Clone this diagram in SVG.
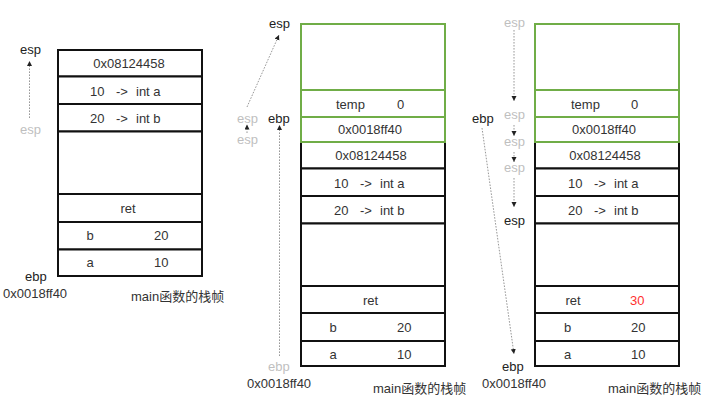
<svg xmlns="http://www.w3.org/2000/svg" width="716" height="402" viewBox="0 0 716 402">
<style>
text{font-family:"Liberation Sans","Noto Sans CJK SC",sans-serif;font-size:13px;fill:#333}
.m{text-anchor:middle}
.g{fill:#bfbfbf}
.k{fill:#222}
.r{fill:#ff3030}
.cb{fill:#fff;stroke:#111;stroke-width:2}
.cg{fill:#fff;stroke:#70ad47;stroke-width:2}
.ar{fill:none;stroke:#8c8c8c;stroke-width:0.9;stroke-dasharray:1.6 1.4;marker-end:url(#ah)}
</style>
<defs>
<marker id="ah" markerUnits="userSpaceOnUse" markerWidth="6" markerHeight="6" refX="5" refY="2.5" orient="auto">
<path d="M0,0 L5,2.5 L0,5 z" fill="#222"/>
</marker>
</defs>
<rect width="716" height="402" fill="#fff"/>

<!-- Panel 1 -->
<g id="p1-c1"><rect class="cb" x="58" y="50" width="144" height="26.5"/><text class="m" x="129" y="67.5">0x08124458</text></g>
<g id="p1-c2"><rect class="cb" x="58" y="76.5" width="144" height="27.5"/><text x="90" y="96">10</text><text x="116" y="96">-&gt;</text><text x="136" y="96">int a</text></g>
<g id="p1-c3"><rect class="cb" x="58" y="104" width="144" height="27.5"/><text x="90" y="123">20</text><text x="116" y="123">-&gt;</text><text x="136" y="123">int b</text></g>
<g id="p1-c4"><rect class="cb" x="58" y="131.5" width="144" height="62.5"/></g>
<g id="p1-c5"><rect class="cb" x="58" y="194" width="144" height="28"/><text class="m" x="128" y="212.5">ret</text></g>
<g id="p1-c6"><rect class="cb" x="58" y="222" width="144" height="27.5"/><text x="86.5" y="240">b</text><text x="154" y="240">20</text></g>
<g id="p1-c7"><rect class="cb" x="58" y="249.5" width="144" height="26.5"/><text x="86.5" y="267">a</text><text x="154" y="267">10</text></g>
<g id="p1-labels">
<text class="k" x="20" y="54">esp</text>
<text class="g" x="20" y="134">esp</text>
<text class="k" x="25" y="281">ebp</text>
<text x="3" y="298">0x0018ff40</text>
<text x="131" y="301">main函数的栈帧</text>
</g>

<!-- Panel 2 -->
<g id="p2-c4"><rect class="cb" x="301" y="142" width="144" height="26.5"/><text class="m" x="371" y="160">0x08124458</text></g>
<g id="p2-c5"><rect class="cb" x="301" y="168.5" width="144" height="27.5"/><text x="334" y="187.5">10</text><text x="360" y="187.5">-&gt;</text><text x="380" y="187.5">int a</text></g>
<g id="p2-c6"><rect class="cb" x="301" y="196" width="144" height="27.5"/><text x="334" y="214.5">20</text><text x="360" y="214.5">-&gt;</text><text x="380" y="214.5">int b</text></g>
<g id="p2-c7"><rect class="cb" x="301" y="223.5" width="144" height="62.5"/></g>
<g id="p2-c8"><rect class="cb" x="301" y="286" width="144" height="27"/><text class="m" x="370.5" y="304.5">ret</text></g>
<g id="p2-c9"><rect class="cb" x="301" y="313" width="144" height="28"/><text x="329.5" y="331.5">b</text><text x="397" y="331.5">20</text></g>
<g id="p2-c10"><rect class="cb" x="301" y="341" width="144" height="25"/><text x="329.5" y="358.5">a</text><text x="397" y="358.5">10</text></g>
<g id="p2-c1"><rect class="cg" x="301" y="24" width="144" height="66"/></g>
<g id="p2-c2"><rect class="cg" x="301" y="90" width="144" height="27"/><text x="336" y="108.5">temp</text><text x="397" y="108.5">0</text></g>
<g id="p2-c3"><rect class="cg" x="301" y="117" width="144" height="25"/><text class="m" x="370" y="133.5">0x0018ff40</text></g>
<g id="p2-labels">
<text class="k" x="269" y="27.5">esp</text>
<text class="g" x="237" y="122.5">esp</text>
<text class="k" x="268" y="122.5">ebp</text>
<text class="g" x="237" y="143.5">esp</text>
<text class="g" x="268" y="371">ebp</text>
<text x="247" y="388">0x0018ff40</text>
<text x="373" y="393">main函数的栈帧</text>
</g>

<!-- Panel 3 -->
<g id="p3-c4"><rect class="cb" x="535" y="142" width="144" height="26.5"/><text class="m" x="605" y="160">0x08124458</text></g>
<g id="p3-c5"><rect class="cb" x="535" y="168.5" width="144" height="27.5"/><text x="568" y="187.5">10</text><text x="594" y="187.5">-&gt;</text><text x="614" y="187.5">int a</text></g>
<g id="p3-c6"><rect class="cb" x="535" y="196" width="144" height="27.5"/><text x="568" y="214.5">20</text><text x="594" y="214.5">-&gt;</text><text x="614" y="214.5">int b</text></g>
<g id="p3-c7"><rect class="cb" x="535" y="223.5" width="144" height="62.5"/></g>
<g id="p3-c8"><rect class="cb" x="535" y="286" width="144" height="27"/><text x="565.5" y="304.5">ret</text><text class="r" x="630" y="304.5">30</text></g>
<g id="p3-c9"><rect class="cb" x="535" y="313" width="144" height="28"/><text x="564" y="331.5">b</text><text x="631" y="331.5">20</text></g>
<g id="p3-c10"><rect class="cb" x="535" y="341" width="144" height="25"/><text x="564" y="358.5">a</text><text x="631" y="358.5">10</text></g>
<g id="p3-c1"><rect class="cg" x="535" y="24" width="144" height="66"/></g>
<g id="p3-c2"><rect class="cg" x="535" y="90" width="144" height="27"/><text x="571" y="108.5">temp</text><text x="631" y="108.5">0</text></g>
<g id="p3-c3"><rect class="cg" x="535" y="117" width="144" height="25"/><text class="m" x="604" y="133.5">0x0018ff40</text></g>
<g id="p3-labels">
<text class="g" x="504" y="27">esp</text>
<text class="g" x="504" y="119">esp</text>
<text class="k" x="472" y="122.5">ebp</text>
<text class="g" x="504" y="146">esp</text>
<text class="g" x="504" y="171.5">esp</text>
<text class="k" x="504" y="225">esp</text>
<text class="k" x="502" y="371">ebp</text>
<text x="482" y="388">0x0018ff40</text>
<text x="608" y="393">main函数的栈帧</text>
</g>

<!-- Connectors -->
<g id="connectors">
<line class="ar" x1="29.5" y1="118" x2="29.5" y2="61"/>
<line class="ar" x1="247" y1="107" x2="279" y2="35"/>
<line class="ar" x1="247" y1="133" x2="247" y2="124.5"/>
<line class="ar" x1="279.5" y1="356" x2="279.5" y2="125"/>
<line class="ar" x1="514" y1="30" x2="514" y2="101"/>
<line class="ar" x1="514" y1="125" x2="514" y2="136"/>
<line class="ar" x1="514" y1="152" x2="514" y2="162"/>
<line class="ar" x1="514" y1="178" x2="514" y2="207"/>
<line class="ar" x1="482" y1="128" x2="514" y2="354"/>
</g>
</svg>
